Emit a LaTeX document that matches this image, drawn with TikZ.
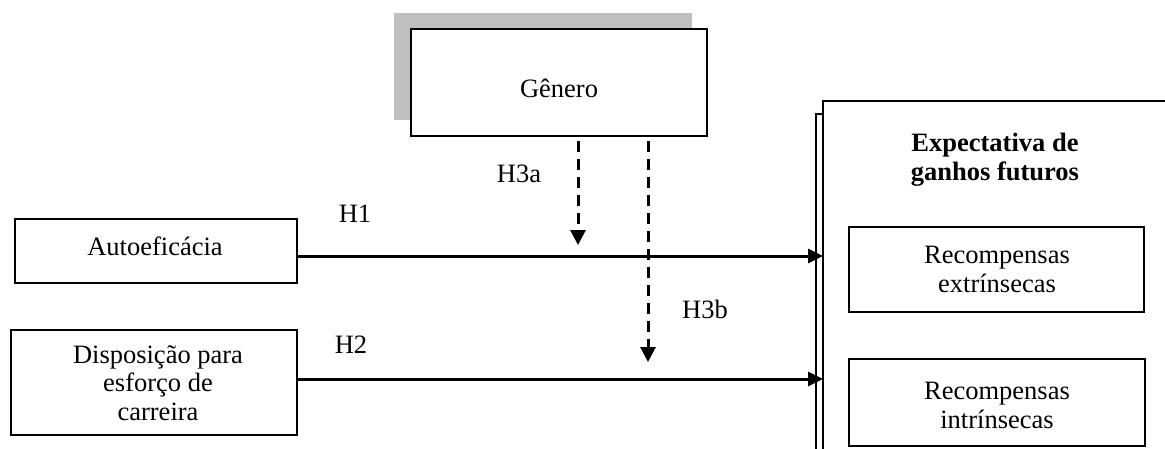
\documentclass[tikz,border=0pt]{standalone}
\usepackage{fontspec}
\setmainfont{Liberation Serif}
\usetikzlibrary{arrows.meta}
\begin{document}
\begin{tikzpicture}[x=1pt,y=-1pt,
  every node/.style={inner sep=0pt,outer sep=0pt},
  lbl/.style={font=\fontsize{26.5}{28.5}\selectfont,align=center,anchor=base},
  boldlbl/.style={lbl,font=\fontsize{26.5}{29}\selectfont\bfseries},
  box/.style={draw,line width=2.2pt},
  genbox/.style={draw,line width=2.8pt,fill=white},
  shadowbox/.style={fill=black!25},
  arr/.style={line width=3pt,-{Triangle[length=15pt,width=14pt]}},
  darr/.style={line width=3pt,dash pattern=on 11pt off 7pt,-{Triangle[length=15pt,width=15pt]}}]
\useasboundingbox (0,0) rectangle (1165,448);

% moderator box with its drop shadow
\path[shadowbox] (394,13) rectangle (692,120);
\draw[genbox] (411,29) rectangle (707,136);
\node (gen) [minimum width=296pt,minimum height=107pt] at (559,82.5) {};
\node (gentext) [lbl] at (559,97) {Gênero};

% predictor boxes
\node (auto) [box,minimum width=282pt,minimum height=64pt] at (156,251) {};
\node (autotext) [lbl] at (155,255) {Autoeficácia};
\node (disp) [box,minimum width=286pt,minimum height=105pt] at (154,382.5) {};
\node (disptext) [lbl] at (158,420) {Disposição para\\esforço de\\carreira};

% outcome panel (runs off the right and bottom edges)
\draw[line width=2.4pt] (816,460) -- (816,114) -- (823,114);
\draw[line width=2.4pt] (823,460) -- (823,101) -- (1175,101);
\coordinate (big) at (823,101);
\node (exptext) [boldlbl] at (995,180) {Expectativa de\\ganhos futuros};
\node (ext) [box,minimum width=295pt,minimum height=85pt] at (996.5,269.5) {};
\node (exttext) [lbl] at (997,292) {Recompensas\\extrínsecas};
\node (intr) [box,minimum width=296pt,minimum height=87pt] at (997,402.5) {};
\node (intrtext) [lbl] at (997,428) {Recompensas\\intrínsecas};

% direct effects
\coordinate (h1s) at ([yshift=-5pt]auto.east);
\coordinate (h2s) at ([yshift=3.5pt]disp.east);
\draw[arr] (h1s) -- (h1s -| big);
\draw[arr] (h2s) -- (h2s -| big);
\node (h1) [lbl] at (355,222) {H1};
\node (h2) [lbl] at (351,353) {H2};

% moderating effects
\coordinate (h3aend) at (578,245);
\coordinate (h3bend) at (648,362);
\draw[darr] ([yshift=-5pt]h3aend |- gen.south) -- (h3aend);
\draw[darr] ([yshift=-5pt]h3bend |- gen.south) -- (h3bend);
\node (h3a) [lbl] at (519,182) {H3a};
\node (h3b) [lbl] at (705,318) {H3b};
\end{tikzpicture}
\end{document}
